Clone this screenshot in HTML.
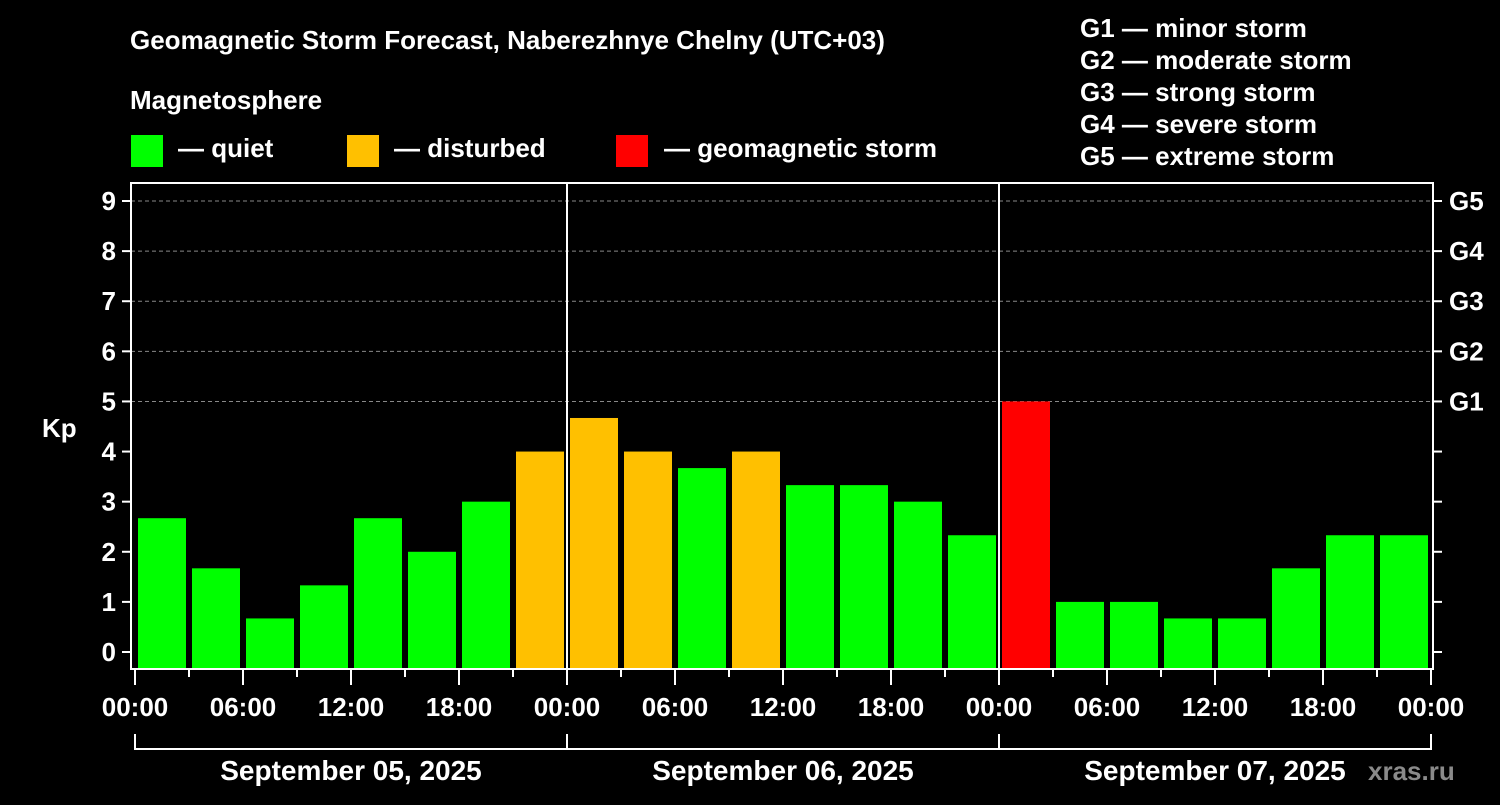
<!DOCTYPE html>
<html><head><meta charset="utf-8"><style>
body{margin:0;background:#000;width:1500px;height:800px;overflow:hidden;font-family:"Liberation Sans",Arial,sans-serif}
svg text{font-family:"Liberation Sans",Arial,sans-serif;font-weight:bold;fill:#fff}
</style></head><body>
<svg id="c" width="1500" height="800" xmlns="http://www.w3.org/2000/svg">
<text x="130" y="49" font-size="26">Geomagnetic Storm Forecast, Naberezhnye Chelny (UTC+03)</text>
<text x="130" y="109" font-size="26">Magnetosphere</text>
<g><rect x="131" y="135" width="32" height="32" fill="#00ff00"/><text x="178" y="157" font-size="26">— quiet</text></g>
<g><rect x="347" y="135" width="32" height="32" fill="#ffc000"/><text x="394" y="157" font-size="26">— disturbed</text></g>
<g><rect x="616" y="135" width="32" height="32" fill="#ff0000"/><text x="664" y="157" font-size="26">— geomagnetic storm</text></g>
<g font-size="26">
<text x="1080" y="37">G1 — minor storm</text><text x="1080" y="69">G2 — moderate storm</text><text x="1080" y="101">G3 — strong storm</text><text x="1080" y="133">G4 — severe storm</text><text x="1080" y="165">G5 — extreme storm</text></g>
<text x="42" y="437" font-size="26">Kp</text>
<text x="1368" y="780" font-size="26" fill="#888" style="fill:#8a8a8a">xras.ru</text>
<g id="plot"></g>
</svg>
<script>
const values=[2.67,1.67,0.67,1.33,2.67,2,3,4, 4.67,4,3.67,4,3.33,3.33,3,2.33, 5,1,1,0.67,0.67,1.67,2.33,2.33];
const dayLabels=["September 05, 2025","September 06, 2025","September 07, 2025"];
const hourLabels=["00:00","06:00","12:00","18:00"];
const yTicks=[0,1,2,3,4,5,6,7,8,9];
const gLabels=["G1","G2","G3","G4","G5"];
const NS="http://www.w3.org/2000/svg";
const g=document.getElementById('plot');
const X0=135,DAY=432,L=131,R=1433,T=183,B=669;
const x=h=>X0+h*DAY/24;
const y=v=>652-v*(652-201)/9;
function mk(t,a,p){const e=document.createElementNS(NS,t);for(const k in a)e.setAttribute(k,a[k]);(p||g).appendChild(e);return e;}
yTicks.forEach(v=>{
 if(v>=5){const l=mk('line',{x1:L,x2:R,y1:y(v),y2:y(v),stroke:'#888','stroke-dasharray':'4,3','stroke-width':1});
 
 }
 const tk=mk('line',{x1:122,x2:L,y1:y(v),y2:y(v),stroke:'#fff','stroke-width':2});
 
 
 mk('line',{x1:R,x2:1442,y1:y(v),y2:y(v),stroke:'#fff','stroke-width':2});
 const t=mk('text',{x:116,y:y(v)+9,'text-anchor':'end','font-size':26});t.textContent=v;
 
 
});
gLabels.forEach((s,i)=>{const t=mk('text',{x:1449,y:y(5+i)+9,'font-size':26});t.textContent=s;
 
 });
values.forEach((v,i)=>{
 const c=v>=5?'#ff0000':(v>=4?'#ffc000':'#00ff00');
 const r=mk('rect',{x:x(i*3)+3,width:DAY/8-6,y:y(v),height:B-y(v),fill:c});
 
 
});
mk('rect',{x:L,y:T,width:R-L,height:B-T,fill:'none',stroke:'#fff','stroke-width':2});
for(let d=1;d<3;d++){mk('line',{x1:x(d*24),x2:x(d*24),y1:T,y2:B,stroke:'#fff','stroke-width':2});}
for(let h=0;h<=72;h+=3){
 const maj=h%6==0;
 mk('line',{x1:x(h),x2:x(h),y1:B,y2:maj?685:677,stroke:'#fff','stroke-width':2});
 if(maj){const t=mk('text',{x:x(h),y:716,'text-anchor':'middle','font-size':26});t.textContent=hourLabels[(h/6)%4];
 
 }
}
dayLabels.forEach((s,d)=>{
 mk('line',{x1:x(d*24),x2:x(d*24),y1:734,y2:750,stroke:'#fff','stroke-width':2});
 mk('line',{x1:x(d*24+24),x2:x(d*24+24),y1:734,y2:750,stroke:'#fff','stroke-width':2});
 mk('line',{x1:x(d*24),x2:x(d*24+24),y1:749,y2:749,stroke:'#fff','stroke-width':2});
 const t=mk('text',{x:x(d*24+12),y:780,'text-anchor':'middle','font-size':28});t.textContent=s;
 
 
});
</script>
</body></html>
